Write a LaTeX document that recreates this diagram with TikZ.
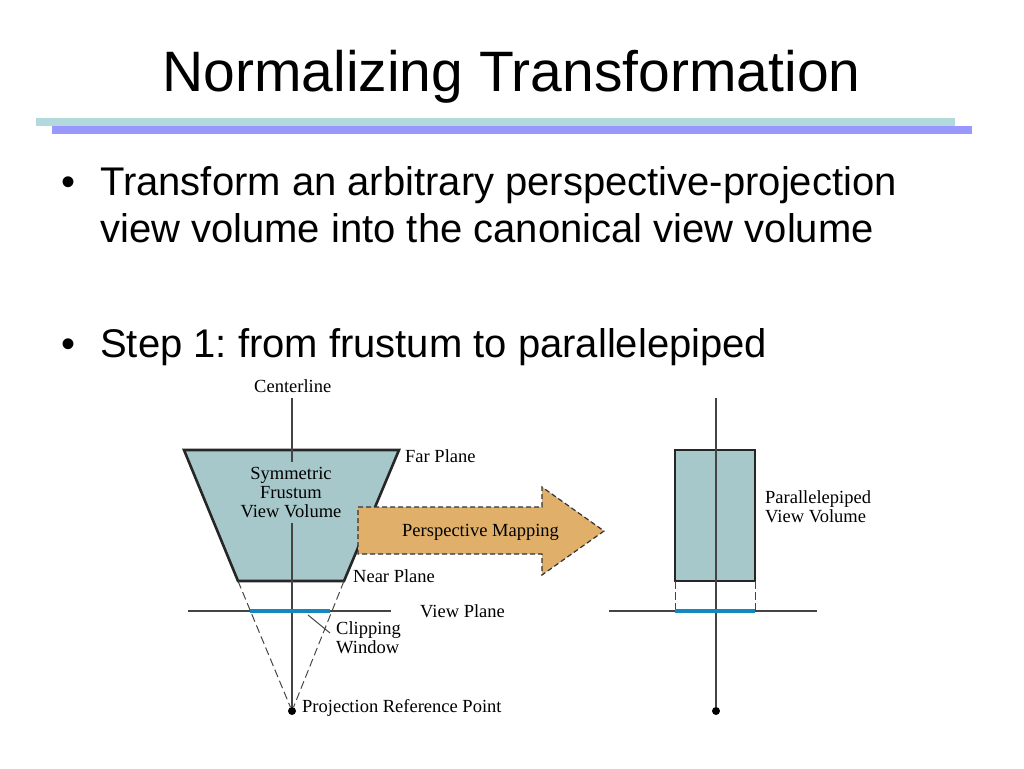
\documentclass[tikz,border=0pt]{standalone}
\usepackage{fontspec}
\setmainfont{Liberation Sans}
\newfontfamily\figfont{Liberation Serif}
\frenchspacing
\definecolor{volfill}{HTML}{A7C8CA}
\definecolor{mapfill}{HTML}{E0B06A}
\definecolor{clipblue}{HTML}{1487C0}
\definecolor{barlight}{HTML}{B2DADC}
\definecolor{barpurple}{HTML}{9898FF}
\definecolor{linegray}{HTML}{444444}

\begin{document}
\begin{tikzpicture}[
    x=1pt,y=-1pt,
    title/.style={anchor=base,font=\fontsize{57}{57}\selectfont},
    body/.style={anchor=base west,inner sep=0pt,font=\fontsize{40}{40}\selectfont},
    fig/.style={anchor=base west,font=\figfont\fontsize{18.5}{19}\selectfont,align=left,inner sep=0pt},
    figc/.style={fig,anchor=center,align=center},
    axis/.style={draw=linegray,line width=1.2pt},
    volume/.style={draw=black!85,line width=2.6pt,fill=volfill,line join=miter},
    proj/.style={draw=linegray,dashed,dash pattern=on 8pt off 4pt,line width=1pt},
    clip/.style={draw=clipblue,line width=4pt},
    dot/.style={circle,fill=black,inner sep=0pt,minimum size=8pt}]

\useasboundingbox (0,0) rectangle (1024,768);

% title and text
\node[title] (head) at (511.5,91) {Normalizing Transformation};
\fill[barlight] (36,118) rectangle (955,126);
\fill[barpurple] (52,126) rectangle (972,134);

\node[body] (b1) at (61,195) {•};
\node[body] (t1) at (100,195) {Transform an arbitrary perspective-projection};
\node[body] (t2) at (100,242) {view volume into the canonical view volume};
\node[body] (b2) at (61,357) {•};
\node[body] (t3) at (100,357) {Step 1: from frustum to parallelepiped};

% frustum side
\coordinate (fa) at (184,450);
\coordinate (fb) at (399,450);
\coordinate (fc) at (344,581);
\coordinate (fd) at (238,581);
\coordinate (ctop) at (292,398);
\coordinate (cin) at (292,462);
\coordinate (cout) at (292,523);
\node[dot] (prp) at (292,711) {};
\coordinate (vl) at (188,611);
\coordinate (vr) at (391,611);
\coordinate (wl) at (250,611);
\coordinate (wr) at (330,611);
\coordinate (tick1) at (308,615);
\coordinate (tick2) at (330,633);

\draw[volume] (fa) -- (fb) -- (fc) -- (fd) -- cycle;
\draw[axis] (ctop) -- (cin);
\draw[axis] (cout) -- (prp);
\draw[proj] (fd) -- (prp);
\draw[proj] (fc) -- (prp);
\draw[axis] (vl) -- (vr);
\draw[clip] (wl) -- (wr);
\draw[draw=linegray,line width=1pt] (tick1) -- (tick2);

% mapping arrow
\coordinate (m1) at (358,507);
\coordinate (m2) at (542,507);
\coordinate (m3) at (542,487);
\coordinate (m4) at (604,531);
\coordinate (m5) at (542,575);
\coordinate (m6) at (542,554);
\coordinate (m7) at (358,554);
\draw[fill=mapfill,draw=black!80,dashed,dash pattern=on 5pt off 3pt,line width=1.2pt]
    (m1) -- (m2) -- (m3) -- (m4) -- (m5) -- (m6) -- (m7) -- cycle;

% parallelepiped side
\coordinate (pa) at (675,450);
\coordinate (pb) at (755,450);
\coordinate (pc) at (755,581);
\coordinate (pd) at (675,581);
\coordinate (ptop) at (716,398);
\node[dot] (prq) at (716,711) {};
\coordinate (ql) at (609,611);
\coordinate (qr) at (817,611);
\coordinate (wa) at (675,611);
\coordinate (wb) at (755,611);

\draw[volume] (pa) -- (pb) -- (pc) -- (pd) -- cycle;
\draw[axis] (ptop) -- (prq);
\draw[axis] (ql) -- (qr);
\draw[proj,dash pattern=on 8pt off 3pt] (pd) -- (wa);
\draw[proj,dash pattern=on 8pt off 3pt] (pc) -- (wb);
\draw[clip] (wa) -- (wb);

% labels
\node[fig] (lcenter) at (254,392) {Centerline};
\node[fig] (lfar) at (405,462) {Far Plane};
\node[figc] (lsym) at (291,493) {Symmetric\\Frustum\\View Volume};
\node[fig] (lmap) at (402,536) {Perspective Mapping};
\node[fig] (lnear) at (353,582) {Near Plane};
\node[fig] (lview) at (420,617) {View Plane};
\node[fig] (lclip) at (336,653) {Clipping\\Window};
\node[fig] (lprp) at (302,712) {Projection Reference Point};
\node[fig] (lpar) at (765,522) {Parallelepiped\\View Volume};

\end{tikzpicture}
\end{document}
